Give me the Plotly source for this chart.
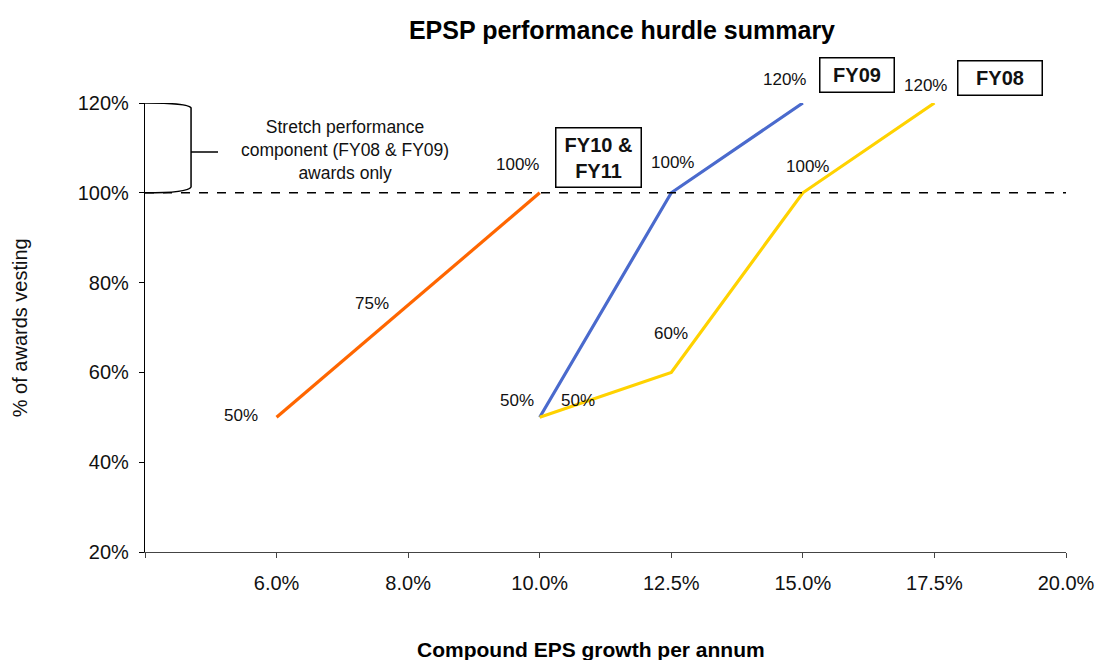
import plotly.graph_objects as go

# Categories along the x axis (first slot is an unlabeled origin)
x_labels = ["", "6.0%", "8.0%", "10.0%", "12.5%", "15.0%", "17.5%", "20.0%"]

# % of awards vesting per series, aligned to x_labels
fy10_fy11 = [None, 50, 75, 100, None, None, None, None]
fy09 = [None, None, None, 50, 100, 120, None, None]
fy08 = [None, None, None, 50, 60, 100, 120, None]

y_ticks = [20, 40, 60, 80, 100, 120]
y_tick_labels = ["20%", "40%", "60%", "80%", "100%", "120%"]

series = [
    ("FY10 & FY11", fy10_fy11, "#FF6600"),
    ("FY09", fy09, "#4A6ACD"),
    ("FY08", fy08, "#FFD200"),
]

# data label pixel offsets per series (style only)
label_offsets = {
    "FY10 & FY11": {1: (-36, 2), 2: (-36, 2), 3: (-22, 28)},
    "FY09": {3: (-23, 17), 4: (1, 30), 5: (-18, 24)},
    "FY08": {3: (38, 17), 4: (0, 39), 5: (5, 26), 6: (-9, 18)},
}

FONT = "Liberation Sans, Arial, sans-serif"

fig = go.Figure()
annotations = []
for name, vals, color in series:
    xs = [i for i, v in enumerate(vals) if v is not None]
    ys = [v for v in vals if v is not None]
    fig.add_trace(go.Scatter(x=xs, y=ys, mode="lines", name=name,
                             line=dict(color=color, width=3.2),
                             showlegend=False, hoverinfo="skip"))
    for xi, yi in zip(xs, ys):
        dx, dy = label_offsets[name].get(xi, (0, 20))
        annotations.append(dict(x=xi, y=yi, xref="x", yref="y", text=f"{yi}%",
                                showarrow=False, xshift=dx, yshift=dy,
                                font=dict(family=FONT, size=17, color="#111")))

# boxed series labels
box_font = dict(family=FONT, size=20, color="#111")
annotations += [
    dict(x=3.45, y=107.9, xref="x", yref="y", text="<b>FY10 &amp;<br>FY11</b>",
         showarrow=False, font=box_font, bordercolor="black", borderwidth=1.5,
         borderpad=2, bgcolor="white", width=80, height=54),
    dict(x=5.41, y=1.062, xref="x", yref="paper", yanchor="middle", xanchor="center",
         text="<b>FY09</b>",
         showarrow=False, font=box_font, bordercolor="black", borderwidth=1.5,
         borderpad=2, bgcolor="white", width=69, height=29),
    dict(x=6.50, y=1.056, xref="x", yref="paper", yanchor="middle", xanchor="center",
         text="<b>FY08</b>",
         showarrow=False, font=box_font, bordercolor="black", borderwidth=1.5,
         borderpad=2, bgcolor="white", width=79, height=29),
    dict(x=1.52, y=109.5, xref="x", yref="y",
         text="Stretch performance<br>component (FY08 &amp; FY09)<br>awards only",
         showarrow=False, font=dict(family=FONT, size=17.5, color="#111")),
    dict(x=0.484, y=-0.218, xref="paper", yref="paper", xanchor="center", yanchor="middle",
         text="<b>Compound EPS growth per annum</b>", showarrow=False,
         font=dict(family=FONT, size=21, color="black")),
    dict(x=-0.136, y=0.5, xref="paper", yref="paper", xanchor="center", yanchor="middle",
         text="% of awards vesting",
         showarrow=False, textangle=-90,
         font=dict(family=FONT, size=20, color="#111")),
]

shapes = [
    dict(type="line", xref="x", yref="y", x0=0, x1=7, y0=100, y1=100,
         line=dict(color="black", width=1.5, dash="dash")),
    dict(type="path", xref="x", yref="y",
         path="M 0,120 Q 0.33,120 0.35,118.9 L 0.35,101.3 Q 0.33,100 0,100 "
              "M 0.35,109.1 L 0.555,109.1",
         line=dict(color="black", width=1.5)),
]

fig.update_layout(
    width=1097, height=660,
    margin=dict(l=145, r=31, t=103, b=108, autoexpand=False),
    paper_bgcolor="white", plot_bgcolor="white",
    title=dict(text="<b>EPSP performance hurdle summary</b>", x=0.567, xanchor="center",
               y=1 - 30 / 660, yanchor="middle", yref="container",
               font=dict(family=FONT, size=25, color="black")),
    xaxis=dict(range=[0, 7], tickvals=list(range(len(x_labels))), ticktext=x_labels,
               automargin=False,
               showgrid=False, zeroline=False, showline=True, linecolor="#444",
               linewidth=1.2, ticks="outside", ticklen=5, tickcolor="#444",
               ticklabelstandoff=8,
               tickfont=dict(family=FONT, size=20, color="#111")),
    yaxis=dict(range=[20, 120], tickvals=y_ticks, ticktext=y_tick_labels,
               automargin=False,
               showgrid=False, zeroline=False, showline=True, linecolor="black",
               linewidth=1.2, ticks="outside", ticklen=5, tickcolor="black",
               ticklabelstandoff=6,
               tickfont=dict(family=FONT, size=20, color="#111")),
    annotations=annotations,
    shapes=shapes,
)

fig.write_html("out.html", config={"displayModeBar": False},
               post_script="document.body.style.margin='0';"
                           "document.body.style.overflow='hidden';")
